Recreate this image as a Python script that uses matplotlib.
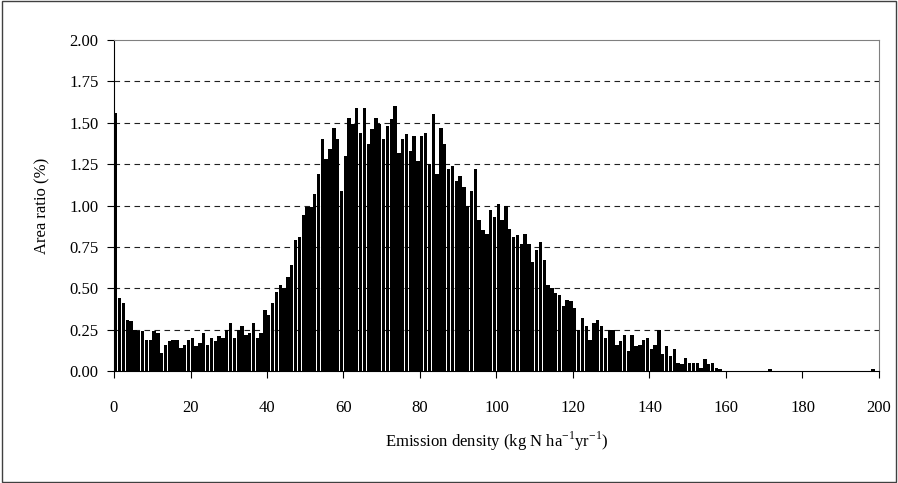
import numpy as np
import matplotlib
matplotlib.use("Agg")
import matplotlib.pyplot as plt
from matplotlib.patches import Rectangle

plt.rcParams['font.family'] = ['Liberation Serif', 'DejaVu Serif']
plt.rcParams['axes.unicode_minus'] = False

# area ratio (%) per 1 kg N/ha/yr bin, bins 0..158
area_main = [
    1.56, 0.44, 0.41, 0.31, 0.30, 0.25, 0.24, 0.24, 0.19, 0.19,
    0.24, 0.23, 0.11, 0.16, 0.18, 0.19, 0.19, 0.14, 0.16, 0.19,
    0.20, 0.15, 0.17, 0.23, 0.16, 0.20, 0.18, 0.21, 0.20, 0.25,
    0.29, 0.20, 0.25, 0.27, 0.22, 0.23, 0.29, 0.20, 0.23, 0.37,
    0.34, 0.41, 0.48, 0.52, 0.50, 0.57, 0.64, 0.79, 0.81, 0.94,
    0.99, 0.99, 1.07, 1.19, 1.40, 1.28, 1.34, 1.47, 1.40, 1.09,
    1.30, 1.53, 1.49, 1.59, 1.44, 1.59, 1.37, 1.46, 1.53, 1.49,
    1.40, 1.48, 1.52, 1.60, 1.32, 1.40, 1.43, 1.33, 1.42, 1.27,
    1.42, 1.44, 1.25, 1.55, 1.19, 1.47, 1.37, 1.22, 1.24, 1.15,
    1.18, 1.11, 1.00, 1.09, 1.22, 0.91, 0.85, 0.83, 0.97, 0.93,
    1.01, 0.91, 1.00, 0.86, 0.81, 0.82, 0.77, 0.83, 0.77, 0.66,
    0.73, 0.78, 0.67, 0.52, 0.50, 0.47, 0.46, 0.39, 0.43, 0.42,
    0.38, 0.25, 0.32, 0.27, 0.19, 0.29, 0.31, 0.27, 0.20, 0.25,
    0.25, 0.16, 0.18, 0.22, 0.12, 0.22, 0.15, 0.16, 0.19, 0.20,
    0.13, 0.16, 0.25, 0.10, 0.15, 0.09, 0.13, 0.05, 0.04, 0.08,
    0.05, 0.05, 0.05, 0.02, 0.07, 0.04, 0.05, 0.02, 0.01,
]
# sparse tail bins
tail_bins = [171, 198]
tail_vals = [0.01, 0.01]

nbins = 200
area = np.zeros(nbins)
area[:len(area_main)] = area_main
area[tail_bins] = tail_vals
density = np.arange(nbins)

fig = plt.figure(figsize=(8.98, 4.83), dpi=100)
ax = fig.add_axes([114/898, 1-371/483, (879-114)/898, (371-40)/483])

ax.bar(density + 0.03, area, width=0.88, align='edge', color='black', linewidth=0)

ax.set_xlim(0, 200)
ax.set_ylim(0, 2.0)
ax.set_xticks(np.arange(0, 201, 20))
ax.set_yticks(np.arange(0, 2.01, 0.25))
ax.set_yticklabels(['{0:.2f}'.format(v) for v in np.arange(0, 2.01, 0.25)])

for yv in np.arange(0.25, 1.8, 0.25):
    ax.axhline(yv, color='#202020', linewidth=0.8, linestyle=(0, (5, 4)), zorder=0)

ax.tick_params(axis='x', direction='out', length=5, width=0.8, pad=16, labelsize=12)
ax.tick_params(axis='y', direction='out', length=5, width=0.8, pad=6, labelsize=12)
ax.spines['left'].set_color('black')
ax.spines['bottom'].set_color('black')
ax.spines['top'].set_color('#808080')
ax.spines['right'].set_color('#808080')

ax.set_xlabel(r'Emission density (kg N ha$^{\mathregular{-1}}$yr$^{\mathregular{-1}}$)', fontsize=12, labelpad=10)
ax.set_ylabel('Area ratio (%)', fontsize=12, labelpad=14)

fig.patches.append(Rectangle((0.002, 0.003), 0.996, 0.994, transform=fig.transFigure,
                             fill=False, edgecolor='#404040', linewidth=1))

plt.savefig('out.png', dpi=100)
